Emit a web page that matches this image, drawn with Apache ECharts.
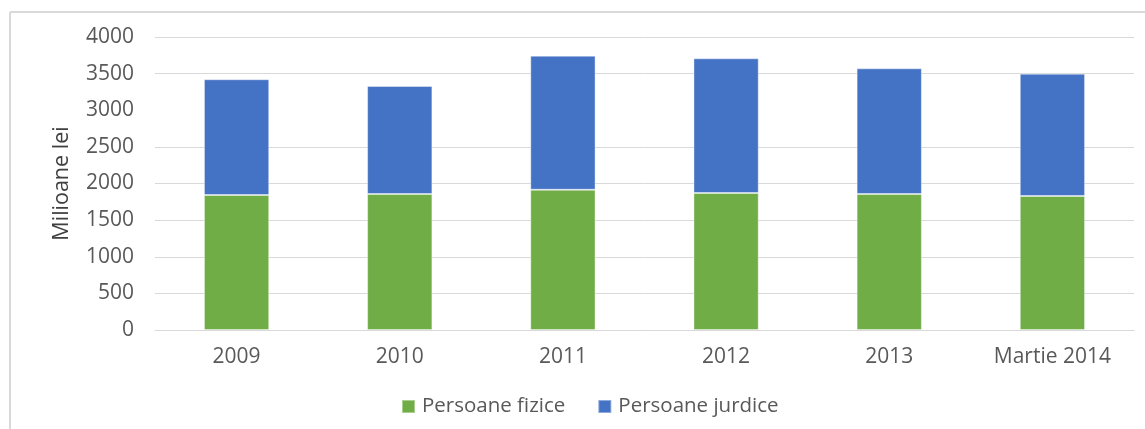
<!DOCTYPE html>
<html>
<head>
<meta charset="utf-8">
<script src="https://cdn.jsdelivr.net/npm/echarts@6/dist/echarts.min.js"></script>
<style>
  html, body { margin: 0; padding: 0; background: #fff; }
  #chart { width: 1145px; height: 429px; }
</style>
</head>
<body>
<div id="chart"></div>
<script>
  // ani, valori in milioane lei
  var categories = ['2009', '2010', '2011', '2012', '2013', 'Martie 2014'];
  var persoaneFizice = [1843, 1857, 1915, 1870, 1857, 1829];
  var persoaneJuridice = [1580, 1474, 1830, 1839, 1715, 1671];
  var seriesNames = ['Persoane fizice', 'Persoane jurdice'];

  var font = '"Open Sans", sans-serif';
  var gray = '#595959';
  var gridColor = '#d9d9d9';

  var chart = echarts.init(document.getElementById('chart'));

  var option = {
    backgroundColor: '#fff',
    animation: false,
    color: ['#70AD47', '#4472C4'],
    grid: { left: 155, right: 11, top: 37, bottom: 99 },
    legend: {
      data: seriesNames,
      left: 396,
      top: 391,
      itemWidth: 13,
      itemHeight: 13,
      itemGap: 32,
      icon: 'rect',
      textStyle: { color: gray, fontSize: 20.5, fontFamily: font, padding: [0, 0, 0, 2] }
    },
    xAxis: {
      type: 'category',
      data: categories,
      axisLine: { lineStyle: { color: gridColor, width: 1 } },
      axisTick: { show: false },
      axisLabel: { color: gray, fontSize: 21, fontFamily: font, margin: 17 }
    },
    yAxis: {
      type: 'value',
      min: 0,
      max: 4000,
      interval: 500,
      name: 'Milioane lei',
      nameLocation: 'middle',
      nameGap: 82,
      nameTextStyle: { color: '#404040', fontSize: 21.5, fontFamily: font },
      axisLine: { show: false },
      axisTick: { show: false },
      axisLabel: {
        color: gray, fontSize: 21, fontFamily: font, margin: 21,
        formatter: function (v) { return String(v); }
      },
      splitLine: {
        lineStyle: {
          // linia de 3000 nu apare in original
          color: [gridColor, gridColor, gridColor, gridColor, gridColor, gridColor, 'rgba(0,0,0,0)', gridColor, gridColor],
          width: 1
        }
      }
    },
    graphic: [
      { type: 'line', shape: { x1: 10, y1: 12, x2: 1145, y2: 12 }, style: { stroke: '#d9d9d9', lineWidth: 2 } },
      { type: 'line', shape: { x1: 10, y1: 12, x2: 10, y2: 429 }, style: { stroke: '#d9d9d9', lineWidth: 2 } }
    ],
    series: [
      {
        name: seriesNames[0],
        type: 'bar',
        stack: 'total',
        barWidth: '40%',
        itemStyle: { borderColor: 'rgba(255,255,255,0.4)', borderWidth: 1 },
        data: persoaneFizice
      },
      {
        name: seriesNames[1],
        type: 'bar',
        stack: 'total',
        barWidth: '40%',
        itemStyle: { borderColor: 'rgba(255,255,255,0.4)', borderWidth: 1 },
        data: persoaneJuridice
      }
    ]
  };

  chart.setOption(option);
</script>
</body>
</html>
